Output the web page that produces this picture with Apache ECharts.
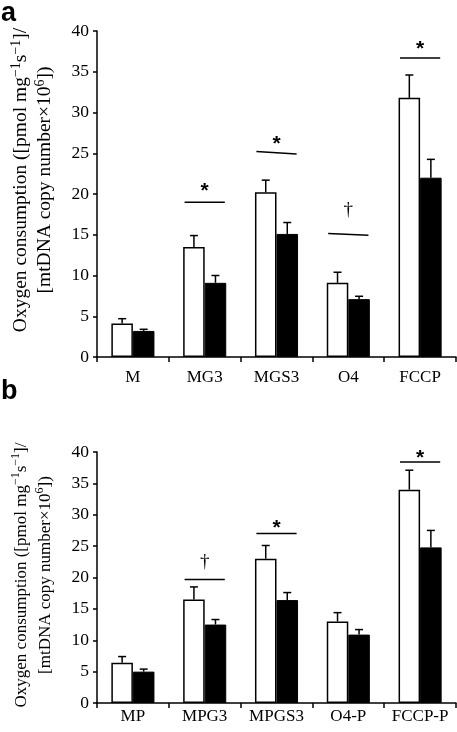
<!DOCTYPE html>
<html>
<head>
<meta charset="utf-8">
<script src="https://cdn.jsdelivr.net/npm/echarts@6/dist/echarts.min.js"></script>
<style>
html,body{margin:0;padding:0;background:#fff;}
#chart{width:457px;height:732px;}
</style>
</head>
<body>
<div id="chart"></div>
<script>
// ---- Panel a data ----
const catsA = ['M', 'MG3', 'MGS3', 'O4', 'FCCP'];
const whiteA = [4.1, 13.5, 20.2, 9.1, 31.8];
const whiteErrA = [0.6, 1.4, 1.5, 1.3, 2.8];
const blackA = [3.2, 9.1, 15.1, 7.1, 22.0];
const blackErrA = [0.2, 0.9, 1.4, 0.35, 2.25];
const sigCatsA = ['MG3', 'MGS3', 'O4', 'FCCP'];
const sigLeftA = [19.0, 25.2, 15.15, 36.7];
const sigRightA = [19.0, 24.9, 14.95, 36.7];
const sigMarkA = ['*', '*', '\u2020', '*'];
const sigMarkYA = [21.0, 26.7, 18.0, 38.4];

// ---- Panel b data ----
const catsB = ['MP', 'MPG3', 'MPGS3', 'O4-P', 'FCCP-P'];
const whiteB = [6.4, 16.5, 23.0, 13.0, 34.0];
const whiteErrB = [1.0, 2.0, 2.1, 1.4, 3.1];
const blackB = [5.0, 12.5, 16.4, 10.9, 24.8];
const blackErrB = [0.4, 0.8, 1.2, 0.8, 2.7];
const sigCatsB = ['MPG3', 'MPGS3', 'FCCP-P'];
const sigLeftB = [19.7, 27.0, 38.4];
const sigRightB = [19.7, 27.0, 38.4];
const sigMarkB = ['\u2020', '*', '*'];
const sigMarkYB = [22.4, 28.6, 39.8];

// ---- Axis ----
const yMin = 0, yMax = 40, yStep = 5;

const SERIF = '"Liberation Serif", "Times New Roman", serif';
const SANS = '"Liberation Sans", Arial, sans-serif';
const BAR_FRAC = 0.3;

const chart = echarts.init(document.getElementById('chart'), null, {renderer: 'canvas'});

function errRender(side) {
  return function (params, api) {
    const c = api.value(0), mean = api.value(1), se = api.value(2);
    const band = api.size([1, 0])[0];
    const bw = band * BAR_FRAC;
    const cx = api.coord([c, 0])[0] + side * bw / 2;
    const yb = api.coord([c, mean])[1];
    const yt = api.coord([c, mean + se])[1];
    const st = {stroke: '#000', lineWidth: 1.5};
    return {type: 'group', children: [
      {type: 'line', shape: {x1: cx, y1: yb, x2: cx, y2: yt}, style: st},
      {type: 'line', shape: {x1: cx - 4, y1: yt, x2: cx + 4, y2: yt}, style: st}
    ]};
  };
}

function sigRender(marks) {
  return function (params, api) {
    const c = api.value(0);
    const cx = api.coord([c, 0])[0];
    const band = api.size([1, 0])[0];
    const half = band * 0.28;
    const yl = api.coord([c, api.value(1)])[1];
    const yr = api.coord([c, api.value(2)])[1];
    const my = api.coord([c, api.value(3)])[1];
    const mk = marks[params.dataIndex];
    const isStar = mk === '*';
    return {type: 'group', children: [
      {type: 'line', shape: {x1: cx - half, y1: yl, x2: cx + half, y2: yr},
        style: {stroke: '#000', lineWidth: 1.5}},
      {type: 'text', x: cx, y: my + (isStar ? 5 : 0),
        style: {text: mk, fill: '#000', align: 'center', verticalAlign: 'middle',
          font: isStar ? ('bold 21px ' + SANS) : ('19px ' + SERIF)}}
    ]};
  };
}

function xAxisCfg(cats, gi, margin) {
  return {
    type: 'category', gridIndex: gi, data: cats, boundaryGap: true,
    axisLine: {lineStyle: {color: '#000', width: 1.5}},
    axisTick: {show: true, length: 5, inside: false, lineStyle: {color: '#000', width: 1.5}},
    axisLabel: {color: '#000', fontFamily: SERIF, fontSize: 17, margin: margin, interval: 0},
    splitLine: {show: false}
  };
}
function yAxisCfg(gi) {
  return {
    type: 'value', gridIndex: gi, min: yMin, max: yMax, interval: yStep,
    axisLine: {show: true, lineStyle: {color: '#000', width: 1.5}},
    axisTick: {show: true, length: 4, lineStyle: {color: '#000', width: 1.5}},
    axisLabel: {color: '#000', fontFamily: SERIF, fontSize: 17.5, margin: 8},
    splitLine: {show: false}
  };
}

function titleText(x, y, size) {
  const sup = Math.round(size * 0.7);
  return {
    type: 'text', x: x, y: y, rotation: Math.PI / 2,
    style: {
      text: '{n|Oxygen consumption ([pmol mg}{s|\u22121}{n|s}{s|\u22121}{n|]/}\n{n|[mtDNA copy number\u00d710}{s|6}{n|])}',
      align: 'center', verticalAlign: 'middle', fill: '#000',
      rich: {
        n: {fontFamily: SERIF, fontSize: size, lineHeight: 24, fill: '#000'},
        s: {fontFamily: SERIF, fontSize: sup, lineHeight: 15, verticalAlign: 'top', fill: '#000'}
      }
    }
  };
}

const option = {
  backgroundColor: '#fff',
  animation: false,
  grid: [
    {left: 97, top: 31, width: 359, height: 326},
    {left: 97, top: 452, width: 359, height: 251}
  ],
  xAxis: [xAxisCfg(catsA, 0, 12), xAxisCfg(catsB, 1, 5)],
  yAxis: [yAxisCfg(0), yAxisCfg(1)],
  graphic: [
    {type: 'text', x: 1, y: 13.5, style: {text: 'a', font: 'bold 27px ' + SANS, fill: '#000', verticalAlign: 'middle'}},
    {type: 'text', x: 1, y: 392, style: {text: 'b', font: 'bold 27px ' + SANS, fill: '#000', verticalAlign: 'middle'}},
    titleText(33, 180, 19.5),
    titleText(34, 575, 17)
  ],
  series: [
    {type: 'bar', xAxisIndex: 0, yAxisIndex: 0, data: whiteA, barWidth: '30%', barGap: '0%',
      itemStyle: {color: '#fff', borderColor: '#000', borderWidth: 1.5}},
    {type: 'bar', xAxisIndex: 0, yAxisIndex: 0, data: blackA, barWidth: '30%', barGap: '0%',
      itemStyle: {color: '#000', borderColor: '#000', borderWidth: 1}},
    {type: 'bar', xAxisIndex: 1, yAxisIndex: 1, data: whiteB, barWidth: '30%', barGap: '0%',
      itemStyle: {color: '#fff', borderColor: '#000', borderWidth: 1.5}},
    {type: 'bar', xAxisIndex: 1, yAxisIndex: 1, data: blackB, barWidth: '30%', barGap: '0%',
      itemStyle: {color: '#000', borderColor: '#000', borderWidth: 1}},
    {type: 'custom', xAxisIndex: 0, yAxisIndex: 0, renderItem: errRender(-1), z: 5,
      data: catsA.map((c, i) => [i, whiteA[i], whiteErrA[i]])},
    {type: 'custom', xAxisIndex: 0, yAxisIndex: 0, renderItem: errRender(1), z: 5,
      data: catsA.map((c, i) => [i, blackA[i], blackErrA[i]])},
    {type: 'custom', xAxisIndex: 1, yAxisIndex: 1, renderItem: errRender(-1), z: 5,
      data: catsB.map((c, i) => [i, whiteB[i], whiteErrB[i]])},
    {type: 'custom', xAxisIndex: 1, yAxisIndex: 1, renderItem: errRender(1), z: 5,
      data: catsB.map((c, i) => [i, blackB[i], blackErrB[i]])},
    {type: 'custom', xAxisIndex: 0, yAxisIndex: 0, renderItem: sigRender(sigMarkA), z: 5,
      data: sigCatsA.map((c, i) => [catsA.indexOf(c), sigLeftA[i], sigRightA[i], sigMarkYA[i]])},
    {type: 'custom', xAxisIndex: 1, yAxisIndex: 1, renderItem: sigRender(sigMarkB), z: 5,
      data: sigCatsB.map((c, i) => [catsB.indexOf(c), sigLeftB[i], sigRightB[i], sigMarkYB[i]])}
  ]
};
chart.setOption(option);
</script>
</body>
</html>
